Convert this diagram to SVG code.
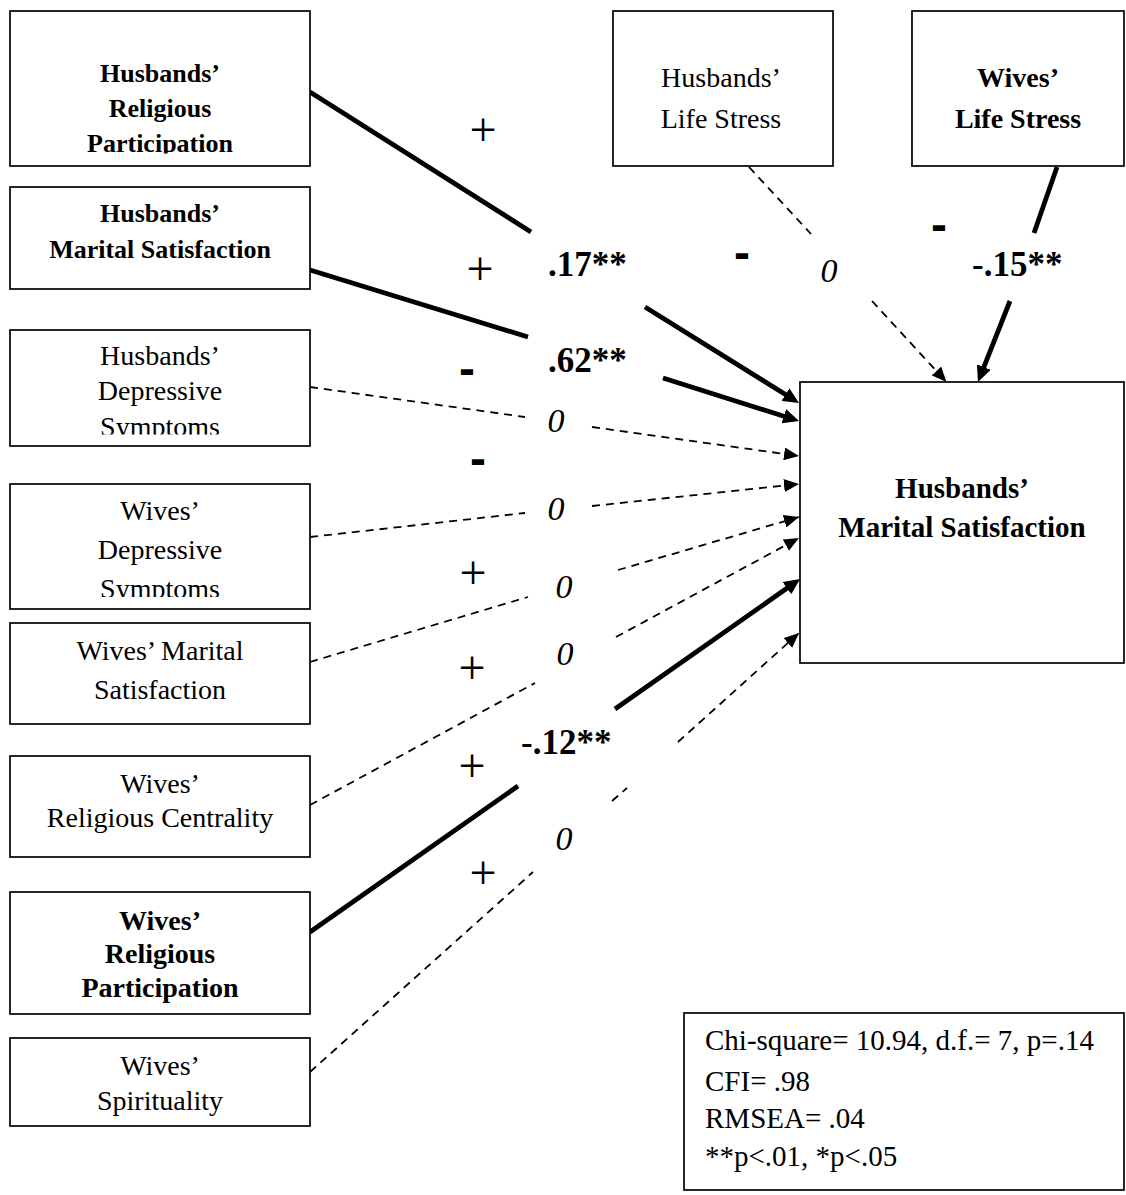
<svg xmlns="http://www.w3.org/2000/svg" width="1126" height="1195" viewBox="0 0 1126 1195">
  <style>
    .box { fill: #fff; stroke: #000; stroke-width: 1.7; }
    .lbl { font-family: "Liberation Serif", "Times New Roman", serif; fill: #000; text-anchor: middle; }
    .reg { font-size: 28px; }
    .bold26 { font-size: 26px; font-weight: bold; }
    .bold28 { font-size: 28px; font-weight: bold; }
    .bold29 { font-size: 29px; font-weight: bold; }
    .solid { fill: none; stroke: #000; stroke-width: 4.8; }
    .dash { fill: none; stroke: #000; stroke-width: 1.8; stroke-dasharray: 8 6; }
    .coef { font-family: "Liberation Serif", "Times New Roman", serif; font-size: 35px; font-weight: bold; }
    .zero { font-family: "Liberation Serif", "Times New Roman", serif; font-size: 34px; font-style: italic; text-anchor: middle; }
    .plus { font-family: "Liberation Serif", "Times New Roman", serif; font-size: 48px; text-anchor: middle; }
    .minus { font-family: "Liberation Sans", Arial, sans-serif; font-size: 48px; font-weight: bold; text-anchor: middle; }
    .fit { font-family: "Liberation Serif", "Times New Roman", serif; font-size: 29px; }
  </style>
  <defs>
    <marker id="ah" viewBox="0 0 15 13" markerWidth="15" markerHeight="13" refX="15" refY="6.5" orient="auto" markerUnits="userSpaceOnUse">
      <path d="M0,0 L15,6.5 L0,13 z" fill="#000"/>
    </marker>
    <marker id="ahBold" viewBox="0 0 16 15" markerWidth="16" markerHeight="15" refX="10" refY="7.5" orient="auto" markerUnits="userSpaceOnUse">
      <path d="M0,0 L16,7.5 L0,15 z" fill="#000"/>
    </marker>
    <clipPath id="clipHRP"><rect x="10" y="11" width="300" height="142.5"/></clipPath>
    <clipPath id="clipHDS"><rect x="10" y="330" width="300" height="104.5"/></clipPath>
    <clipPath id="clipWDS"><rect x="10" y="484" width="300" height="113"/></clipPath>
  </defs>

  <rect width="1126" height="1195" fill="#fff"/>

  <!-- paths between the predictors and the outcome -->
  <g id="connectors">
    <path class="solid" d="M310,92 L531,232 M645,307 L793.9,399.8" marker-end="url(#ahBold)"/>
    <path class="solid" d="M310,270 L528,337 M663,378 L793.3,419.2" marker-end="url(#ahBold)"/>
    <path class="dash" d="M749,167 L811,234 M872,301 L946.5,382" marker-end="url(#ah)"/>
    <path class="solid" d="M1057,167 L1034,233 M1010,301 L980.2,376.4" marker-end="url(#ahBold)"/>
    <path class="dash" d="M310,387 L525,417 M592,427 L799,456" marker-end="url(#ah)"/>
    <path class="dash" d="M310,537 L525,513 M592,506 L799,484" marker-end="url(#ah)"/>
    <path class="dash" d="M310,662 L528,597 M618,570 L799,517" marker-end="url(#ah)"/>
    <path class="dash" d="M310,805 L535,683 M616,637 L799,538" marker-end="url(#ah)"/>
    <path class="solid" d="M310,932 L518,786 M615,709 L795.1,582.5" marker-end="url(#ahBold)"/>
    <path class="dash" d="M310,1072 L533,872 M612,801 L627,788 M678,742 L799,633" marker-end="url(#ah)"/>
  </g>

  <g id="node-husbands-religious-participation">
    <rect class="box" x="10" y="11" width="300" height="155"/>
    <g clip-path="url(#clipHRP)">
      <text class="lbl bold26" x="160" y="82">Husbands’</text>
      <text class="lbl bold26" x="160" y="117">Religious</text>
      <text class="lbl bold26" x="160" y="152">Participation</text>
    </g>
  </g>

  <g id="node-husbands-marital-satisfaction-prior">
    <rect class="box" x="10" y="187" width="300" height="102"/>
    <text class="lbl bold26" x="160" y="222">Husbands’</text>
    <text class="lbl bold26" x="160" y="258">Marital Satisfaction</text>
  </g>

  <g id="node-husbands-depressive-symptoms">
    <rect class="box" x="10" y="330" width="300" height="116"/>
    <g clip-path="url(#clipHDS)">
      <text class="lbl reg" x="160" y="365">Husbands’</text>
      <text class="lbl reg" x="160" y="400">Depressive</text>
      <text class="lbl reg" x="160" y="436">Symptoms</text>
    </g>
  </g>

  <g id="node-wives-depressive-symptoms">
    <rect class="box" x="10" y="484" width="300" height="125"/>
    <g clip-path="url(#clipWDS)">
      <text class="lbl reg" x="160" y="520">Wives’</text>
      <text class="lbl reg" x="160" y="559">Depressive</text>
      <text class="lbl reg" x="160" y="598">Symptoms</text>
    </g>
  </g>

  <g id="node-wives-marital-satisfaction">
    <rect class="box" x="10" y="623" width="300" height="101"/>
    <text class="lbl reg" x="160" y="660">Wives’ Marital</text>
    <text class="lbl reg" x="160" y="699">Satisfaction</text>
  </g>

  <g id="node-wives-religious-centrality">
    <rect class="box" x="10" y="756" width="300" height="101"/>
    <text class="lbl reg" x="160" y="793">Wives’</text>
    <text class="lbl reg" x="160" y="827">Religious Centrality</text>
  </g>

  <g id="node-wives-religious-participation">
    <rect class="box" x="10" y="892" width="300" height="122"/>
    <text class="lbl bold28" x="160" y="930">Wives’</text>
    <text class="lbl bold28" x="160" y="963">Religious</text>
    <text class="lbl bold28" x="160" y="997">Participation</text>
  </g>

  <g id="node-wives-spirituality">
    <rect class="box" x="10" y="1038" width="300" height="88"/>
    <text class="lbl reg" x="160" y="1075">Wives’</text>
    <text class="lbl reg" x="160" y="1110">Spirituality</text>
  </g>

  <g id="node-husbands-life-stress">
    <rect class="box" x="613" y="11" width="220" height="155"/>
    <text class="lbl reg" x="721" y="87">Husbands’</text>
    <text class="lbl reg" x="721" y="128">Life Stress</text>
  </g>

  <g id="node-wives-life-stress">
    <rect class="box" x="912" y="11" width="212" height="155"/>
    <text class="lbl bold28" x="1018" y="87">Wives’</text>
    <text class="lbl bold28" x="1018" y="128">Life Stress</text>
  </g>

  <g id="node-husbands-marital-satisfaction">
    <rect class="box" x="800" y="382" width="324" height="281"/>
    <text class="lbl bold29" x="962" y="498">Husbands’</text>
    <text class="lbl bold29" x="962" y="537">Marital Satisfaction</text>
  </g>

  <!-- path coefficients -->
  <g id="coefficients">
    <text class="coef" x="548" y="276">.17**</text>
    <text class="coef" x="548" y="372">.62**</text>
    <text class="coef" x="972" y="276">-.15**</text>
    <text class="coef" x="521" y="754">-.12**</text>
    <text class="zero" x="829" y="282">0</text>
    <text class="zero" x="556" y="432">0</text>
    <text class="zero" x="556" y="520">0</text>
    <text class="zero" x="564" y="598">0</text>
    <text class="zero" x="565" y="665">0</text>
    <text class="zero" x="564" y="850">0</text>
  </g>

  <!-- expected signs -->
  <g id="signs">
    <text class="plus" x="483" y="146">+</text>
    <text class="plus" x="480" y="285">+</text>
    <text class="minus" x="939" y="241">-</text>
    <text class="minus" x="742" y="269">-</text>
    <text class="minus" x="467" y="385">-</text>
    <text class="minus" x="478" y="475">-</text>
    <text class="plus" x="473" y="589">+</text>
    <text class="plus" x="472" y="684">+</text>
    <text class="plus" x="472" y="782">+</text>
    <text class="plus" x="483" y="889">+</text>
  </g>

  <g id="fit-statistics">
    <rect class="box" x="684" y="1013" width="440" height="177"/>
    <text class="fit" x="705" y="1050">Chi-square= 10.94, d.f.= 7, p=.14</text>
    <text class="fit" x="705" y="1091">CFI= .98</text>
    <text class="fit" x="705" y="1128">RMSEA= .04</text>
    <text class="fit" x="705" y="1166">**p&lt;.01, *p&lt;.05</text>
  </g>
</svg>
